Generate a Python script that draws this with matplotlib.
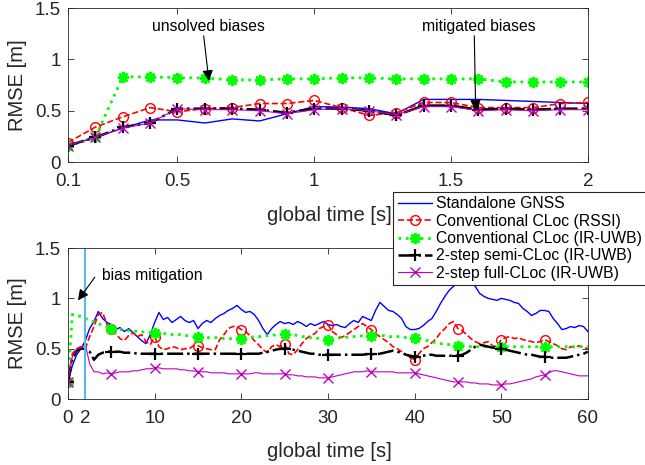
import numpy as np
import matplotlib
matplotlib.use('Agg')
from matplotlib import pyplot as plt

plt.rcParams['font.family'] = ['Liberation Sans', 'DejaVu Sans']

labels = ['Standalone GNSS', 'Conventional CLoc (RSSI)', 'Conventional CLoc (IR-UWB)',
          '2-step semi-CLoc (IR-UWB)', '2-step full-CLoc (IR-UWB)']

# top panel: RMSE vs global time (0.1 .. 2 s)
t_top = [0.1, 0.2, 0.3, 0.4, 0.5, 0.6, 0.7, 0.8, 0.9, 1.0,
         1.1, 1.2, 1.3, 1.4, 1.5, 1.6, 1.7, 1.8, 1.9, 2.0]
gnss_top = [0.16, 0.24, 0.33, 0.41, 0.41, 0.38, 0.42, 0.40, 0.47, 0.54,
            0.535, 0.52, 0.47, 0.61, 0.61, 0.61, 0.60, 0.59, 0.58, 0.57]
rssi_top = [0.19, 0.34, 0.44, 0.53, 0.49, 0.52, 0.53, 0.57, 0.57, 0.60,
            0.53, 0.455, 0.48, 0.58, 0.58, 0.53, 0.53, 0.53, 0.57, 0.58]
uwb_top = [0.155, 0.24, 0.83, 0.83, 0.82, 0.82, 0.80, 0.80, 0.81, 0.81,
           0.82, 0.82, 0.81, 0.81, 0.81, 0.81, 0.78, 0.78, 0.78, 0.78]
semi_top = [0.16, 0.24, 0.34, 0.38, 0.52, 0.52, 0.52, 0.51, 0.48, 0.52,
            0.52, 0.50, 0.455, 0.55, 0.55, 0.51, 0.52, 0.51, 0.52, 0.52]
full_top = [0.16, 0.24, 0.33, 0.38, 0.52, 0.51, 0.51, 0.50, 0.47, 0.51,
            0.52, 0.50, 0.46, 0.54, 0.54, 0.50, 0.51, 0.50, 0.51, 0.51]

# bottom panel: RMSE vs global time (0 .. 60 s, every 0.5 s)
t_bot = np.arange(0, 60.5, 0.5)
gnss_bot = [0.17, 0.33, 0.44, 0.50, 0.58, 0.70, 0.77, 0.87, 0.80, 0.76,
            0.74, 0.69, 0.71, 0.67, 0.70, 0.66, 0.62, 0.58, 0.55, 0.64,
            0.76, 0.86, 0.79, 0.81, 0.76, 0.79, 0.82, 0.78, 0.76, 0.78,
            0.70, 0.75, 0.78, 0.76, 0.80, 0.83, 0.85, 0.88, 0.90, 0.93,
            0.89, 0.86, 0.87, 0.84, 0.78, 0.70, 0.64, 0.70, 0.74, 0.77,
            0.75, 0.76, 0.74, 0.77, 0.75, 0.72, 0.75, 0.73, 0.75, 0.77,
            0.74, 0.73, 0.74, 0.72, 0.71, 0.75, 0.78, 0.76, 0.82, 0.80,
            0.78, 0.88, 0.96, 0.92, 0.88, 0.87, 0.84, 0.80, 0.72, 0.69,
            0.69, 0.70, 0.73, 0.77, 0.80, 0.87, 0.95, 1.02, 1.08, 1.12,
            1.15, 1.18, 1.20, 1.17, 1.12, 1.05, 1.02, 1.00, 0.99, 0.98,
            1.00, 0.99, 0.98, 0.96, 0.95, 0.90, 0.87, 0.83, 0.85, 0.88,
            0.88, 0.87, 0.80, 0.75, 0.69, 0.70, 0.72, 0.71, 0.73, 0.72,
            0.67]
rssi_bot = [0.17, 0.45, 0.50, 0.52, 0.50, 0.62, 0.72, 0.84, 0.86, 0.74,
            0.70, 0.65, 0.60, 0.58, 0.63, 0.66, 0.62, 0.64, 0.57, 0.54,
            0.62, 0.52, 0.49, 0.50, 0.52, 0.51, 0.49, 0.50, 0.50, 0.53,
            0.53, 0.51, 0.50, 0.49, 0.49, 0.59, 0.64, 0.70, 0.72, 0.72,
            0.69, 0.67, 0.63, 0.58, 0.54, 0.49, 0.46, 0.52, 0.54, 0.52,
            0.55, 0.45, 0.44, 0.49, 0.55, 0.60, 0.63, 0.65, 0.70, 0.72,
            0.74, 0.67, 0.64, 0.61, 0.63, 0.66, 0.69, 0.72, 0.75, 0.72,
            0.69, 0.65, 0.62, 0.59, 0.56, 0.52, 0.50, 0.47, 0.44, 0.42,
            0.39, 0.45, 0.50, 0.52, 0.56, 0.60, 0.66, 0.70, 0.75, 0.77,
            0.70, 0.68, 0.64, 0.60, 0.57, 0.55, 0.56, 0.57, 0.53, 0.52,
            0.59, 0.61, 0.62, 0.60, 0.61, 0.59, 0.58, 0.57, 0.56, 0.57,
            0.59, 0.57, 0.55, 0.53, 0.50, 0.49, 0.52, 0.51, 0.53, 0.51,
            0.50]
uwb_bot = [0.17, 0.84, 0.83, 0.82, 0.80, 0.78, 0.77, 0.75, 0.73, 0.72,
           0.70, 0.70, 0.69, 0.69, 0.68, 0.68, 0.67, 0.67, 0.66, 0.66,
           0.66, 0.65, 0.65, 0.65, 0.64, 0.64, 0.64, 0.63, 0.63, 0.62,
           0.62, 0.62, 0.61, 0.61, 0.61, 0.61, 0.60, 0.60, 0.60, 0.60,
           0.60, 0.61, 0.61, 0.62, 0.62, 0.62, 0.63, 0.63, 0.64, 0.64,
           0.65, 0.64, 0.64, 0.63, 0.62, 0.62, 0.61, 0.61, 0.60, 0.60,
           0.59, 0.60, 0.60, 0.61, 0.61, 0.62, 0.62, 0.62, 0.63, 0.63,
           0.63, 0.63, 0.63, 0.63, 0.62, 0.62, 0.62, 0.62, 0.61, 0.61,
           0.61, 0.60, 0.59, 0.58, 0.57, 0.56, 0.55, 0.55, 0.54, 0.54,
           0.53, 0.53, 0.53, 0.52, 0.52, 0.52, 0.52, 0.52, 0.52, 0.52,
           0.52, 0.52, 0.52, 0.52, 0.52, 0.52, 0.52, 0.52, 0.52, 0.52,
           0.52, 0.52, 0.52, 0.52, 0.52, 0.52, 0.52, 0.52, 0.52, 0.52,
           0.52]
semi_bot = [0.17, 0.40, 0.48, 0.50, 0.50, 0.47, 0.39, 0.44, 0.46, 0.47,
            0.47, 0.47, 0.47, 0.46, 0.46, 0.46, 0.45, 0.45, 0.45, 0.45,
            0.45, 0.45, 0.45, 0.45, 0.45, 0.45, 0.45, 0.45, 0.45, 0.45,
            0.45, 0.45, 0.45, 0.45, 0.45, 0.45, 0.45, 0.45, 0.45, 0.45,
            0.45, 0.45, 0.45, 0.45, 0.45, 0.46, 0.47, 0.48, 0.49, 0.50,
            0.50, 0.50, 0.49, 0.48, 0.47, 0.46, 0.45, 0.45, 0.44, 0.44,
            0.44, 0.44, 0.44, 0.44, 0.44, 0.44, 0.44, 0.44, 0.44, 0.445,
            0.445, 0.445, 0.45, 0.46, 0.47, 0.48, 0.47, 0.46, 0.44, 0.43,
            0.42, 0.42, 0.43, 0.44, 0.44, 0.43, 0.43, 0.43, 0.43, 0.43,
            0.43, 0.44, 0.46, 0.49, 0.52, 0.54, 0.53, 0.52, 0.51, 0.51,
            0.50, 0.49, 0.48, 0.47, 0.46, 0.45, 0.44, 0.44, 0.43, 0.42,
            0.42, 0.41, 0.41, 0.41, 0.41, 0.41, 0.42, 0.43, 0.44, 0.45,
            0.47]
full_bot = [0.17, 0.42, 0.50, 0.51, 0.54, 0.35, 0.27, 0.27, 0.25, 0.26,
            0.25, 0.26, 0.27, 0.27, 0.27, 0.28, 0.28, 0.29, 0.30, 0.30,
            0.31, 0.31, 0.30, 0.30, 0.30, 0.30, 0.29, 0.29, 0.28, 0.28,
            0.27, 0.27, 0.27, 0.26, 0.26, 0.26, 0.26, 0.25, 0.25, 0.25,
            0.25, 0.25, 0.25, 0.26, 0.26, 0.25, 0.25, 0.25, 0.25, 0.25,
            0.25, 0.24, 0.24, 0.23, 0.23, 0.22, 0.22, 0.22, 0.21, 0.21,
            0.21, 0.22, 0.23, 0.24, 0.25, 0.26, 0.27, 0.27, 0.27, 0.28,
            0.27, 0.27, 0.27, 0.27, 0.27, 0.27, 0.26, 0.26, 0.26, 0.26,
            0.26, 0.25, 0.24, 0.23, 0.22, 0.21, 0.20, 0.19, 0.18, 0.17,
            0.17, 0.17, 0.17, 0.16, 0.16, 0.15, 0.15, 0.15, 0.14, 0.14,
            0.14, 0.15, 0.15, 0.16, 0.17, 0.18, 0.19, 0.20, 0.22, 0.23,
            0.24, 0.26, 0.28, 0.28, 0.27, 0.26, 0.25, 0.24, 0.23, 0.23,
            0.23]

axis_gray = (0.15, 0.15, 0.15)
asterisk = (8, 2, 0)
styles = [
    dict(color='b', ls='-', lw=1.0),
    dict(color='r', ls='--', lw=1.2, marker='o', mfc='none', ms=7, mew=1.0),
    dict(color=(0, 1, 0), ls=':', lw=2.0, marker=asterisk, ms=8, mew=1.8),
    dict(color='k', ls='-.', lw=1.8, marker='+', ms=9, mew=1.6),
    dict(color='m', ls='-', lw=0.8, marker='x', ms=7, mew=1.0),
]


def style_axes(ax):
    ax.tick_params(direction='in', top=True, right=True, labelsize=13.5,
                   colors=axis_gray, length=4, width=0.6)
    ax.tick_params(axis='x', pad=8)
    ax.tick_params(axis='y', pad=5)
    for s in ax.spines.values():
        s.set_color(axis_gray)
        s.set_linewidth(0.6)
    ax.set_xlabel('global time [s]', fontsize=14.5, color=axis_gray, ha='right', va='center')
    ax.xaxis.set_label_coords(0.622, -0.345)
    ax.set_ylabel('RMSE [m]', fontsize=14.5, color=axis_gray, va='center')
    ax.yaxis.set_label_coords(-0.097, 0.5)


fig = plt.figure(figsize=(6.45, 4.65), dpi=100)
ax1 = fig.add_axes([0.1054, 0.6516, 0.806, 0.331])
ax2 = fig.add_axes([0.1054, 0.1419, 0.806, 0.3247])

series_top = [gnss_top, rssi_top, uwb_top, semi_top, full_top]
for ydata, st in zip(series_top, styles):
    ax1.plot(t_top, ydata, **st)
ax1.set_xlim(0.1, 2)
ax1.set_ylim(0, 1.5)
ax1.set_xticks([0.1, 0.5, 1, 1.5, 2])
ax1.set_xticklabels(['0.1', '0.5', '1', '1.5', '2'])
ax1.set_yticks([0, 0.5, 1, 1.5])
ax1.set_yticklabels(['0', '0.5', '1', '1.5'])
style_axes(ax1)

arrow = dict(arrowstyle='-|>', color='k', lw=0.8, mutation_scale=16,
             shrinkA=0, shrinkB=0)
ax1.text(0.615, 1.32, 'unsolved biases', ha='center', va='center', fontsize=11.3)
ax1.annotate('', xy=(0.615, 0.79), xytext=(0.596, 1.23), arrowprops=arrow)
ax1.text(1.60, 1.32, 'mitigated biases', ha='center', va='center', fontsize=11.3)
ax1.annotate('', xy=(1.59, 0.50), xytext=(1.585, 1.23), arrowprops=arrow)

series_bot = [gnss_bot, rssi_bot, uwb_bot, semi_bot, full_bot]
handles = []
for ydata, st in zip(series_bot, styles):
    h, = ax2.plot(t_bot, ydata, markevery=slice(0, 120, 10), **st)
    handles.append(h)
ax2.axvline(2, color=(0.30, 0.745, 0.933), lw=1.5)
ax2.set_xlim(0, 60)
ax2.set_ylim(0, 1.5)
ax2.set_xticks([0, 2, 10, 20, 30, 40, 50, 60])
ax2.set_yticks([0, 0.5, 1, 1.5])
ax2.set_yticklabels(['0', '0.5', '1', '1.5'])
style_axes(ax2)

ax2.text(3.9, 1.23, 'bias mitigation', ha='left', va='center', fontsize=11.3)
ax2.annotate('', xy=(1.15, 0.98), xytext=(3.1, 1.21), arrowprops=arrow)

leg = fig.legend(handles, labels, loc='upper left', bbox_to_anchor=(0.609, 0.588),
                 fontsize=11.3, labelspacing=0.15, handlelength=2.2,
                 handletextpad=0.25, borderpad=0.3, borderaxespad=0,
                 frameon=True, fancybox=False, framealpha=1)
leg.get_frame().set_edgecolor(axis_gray)
leg.get_frame().set_linewidth(0.8)

fig.savefig('out.png', dpi=100)
